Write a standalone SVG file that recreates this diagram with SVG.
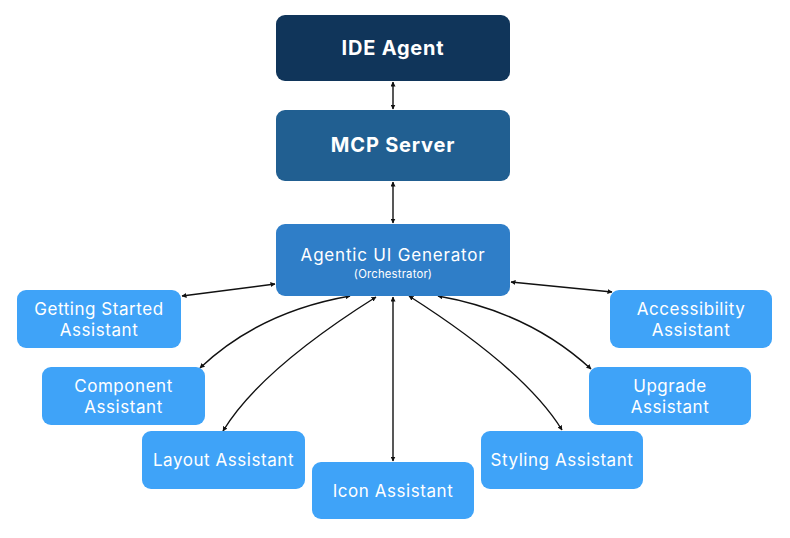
<svg xmlns="http://www.w3.org/2000/svg" width="790" height="538" viewBox="0 0 790 538">
<defs>
<style>
.n rect{rx:9;ry:9}
.ide{fill:#10355a}
.mcp{fill:#215f91}
.gen{fill:#2f7ec8}
.ast{fill:#3fa3f8}
text{font-family:Inter,"Open Sans","Liberation Sans",sans-serif;fill:#ffffff;text-anchor:middle}
.t1{font-size:20px;font-weight:700;letter-spacing:0.8px}
.t2{font-size:17px;letter-spacing:0.8px}
.t3{font-size:11.3px;letter-spacing:0.2px}
.t4{font-size:17px;letter-spacing:0.55px}
#connectors path{fill:none;stroke:#111111;stroke-width:1.4;marker-start:url(#ah);marker-end:url(#ah)}
</style>
<marker id="ah" viewBox="0 0 10 10" refX="9" refY="5" markerWidth="5" markerHeight="5" markerUnits="userSpaceOnUse" orient="auto-start-reverse">
<path d="M0,0 L10,5 L0,10 z" fill="#111111"/>
</marker>
</defs>
<rect width="790" height="538" fill="#ffffff"/>
<g id="connectors">
<path d="M393,82 L393,109"/>
<path d="M393,182 L393,223"/>
<path d="M275,284 L182,296"/>
<path d="M350,296 Q259,312 200,368"/>
<path d="M376,297 Q260,370 223,431"/>
<path d="M393,297 L393,461"/>
<path d="M409,296 Q525,370 562,430"/>
<path d="M438,296 Q529,312 591,369"/>
<path d="M511,282 L612,292"/>
</g>
<g id="ide-agent" class="n"><rect class="ide" x="276" y="15" width="234" height="66"/><text class="t1" x="393" y="55">IDE Agent</text></g>
<g id="mcp-server" class="n"><rect class="mcp" x="276" y="110" width="234" height="71"/><text class="t1" x="393" y="152">MCP Server</text></g>
<g id="generator" class="n"><rect class="gen" x="276" y="224" width="234" height="72"/><text class="t2" x="393" y="261">Agentic UI Generator</text><text class="t3" x="393" y="278">(Orchestrator)</text></g>
<g id="getting-started" class="n"><rect class="ast" x="17" y="290" width="164" height="58"/><text class="t4" x="99" y="315">Getting Started</text><text class="t4" x="99" y="336">Assistant</text></g>
<g id="component" class="n"><rect class="ast" x="42" y="367" width="163" height="58"/><text class="t4" x="123.5" y="392">Component</text><text class="t4" x="123.5" y="413">Assistant</text></g>
<g id="layout" class="n"><rect class="ast" x="142" y="431" width="163" height="58"/><text class="t4" x="223.5" y="466">Layout Assistant</text></g>
<g id="icon" class="n"><rect class="ast" x="312" y="462" width="162" height="57"/><text class="t4" x="393" y="497">Icon Assistant</text></g>
<g id="styling" class="n"><rect class="ast" x="481" y="431" width="162" height="58"/><text class="t4" x="562" y="466">Styling Assistant</text></g>
<g id="upgrade" class="n"><rect class="ast" x="589" y="367" width="162" height="58"/><text class="t4" x="670" y="392">Upgrade</text><text class="t4" x="670" y="413">Assistant</text></g>
<g id="accessibility" class="n"><rect class="ast" x="610" y="290" width="162" height="58"/><text class="t4" x="691" y="315">Accessibility</text><text class="t4" x="691" y="336">Assistant</text></g>
</svg>
